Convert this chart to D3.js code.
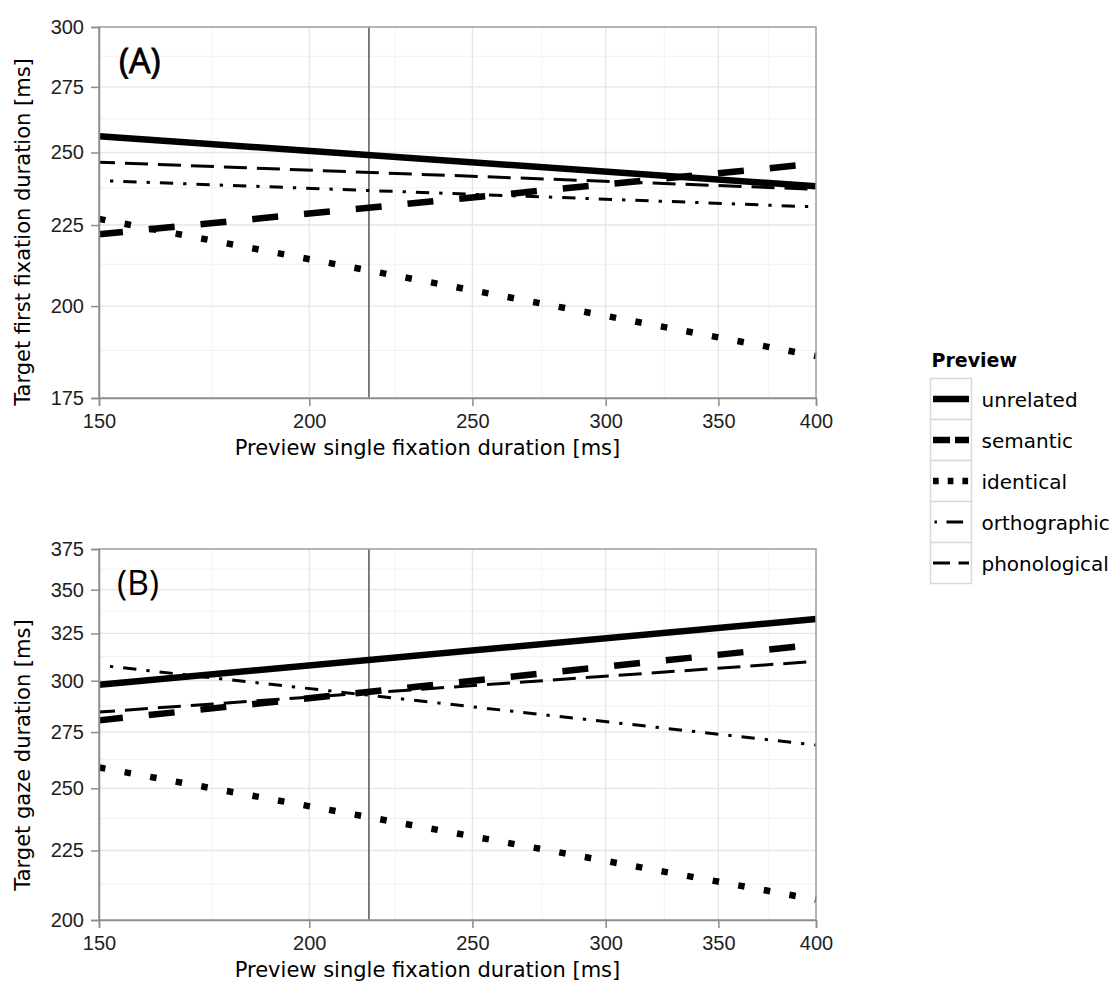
<!DOCTYPE html>
<html>
<head>
<meta charset="utf-8">
<script src="https://cdn.jsdelivr.net/npm/d3@7.9.0/dist/d3.min.js"></script>
<style>
  body { margin: 0; background: #fff; }
  svg { display: block; }
  text { font-family: "DejaVu Sans", sans-serif; fill: #000; }
</style>
</head>
<body>
<svg id="chart" width="1117" height="983"></svg>
<script>
// preview conditions, in legend order
const previewTypes = ['unrelated', 'semantic', 'identical', 'orthographic', 'phonological'];

// model lines are read at both ends of the preview range
const previewRange = [150, 400];
const firstFixStart = [256, 222, 227, 240, 246.5];
const firstFixEnd = [238, 246, 186, 231, 237];
const gazeStart = [298, 280.5, 259, 308, 284.5];
const gazeEnd = [333, 319, 207, 269, 310];

const xTicks = [150, 200, 250, 300, 350, 400];
const firstFixTicks = [175, 200, 225, 250, 275, 300];
const gazeTicks = [200, 225, 250, 275, 300, 325, 350, 375];
const meanPreviewSFD = 217;

// line looks (ggplot solid / dashed / dotted / dotdash / longdash)
const lineStyle = {
  unrelated:    { width: 6.5, dash: null,               offset: 0,    key: null },
  semantic:     { width: 6.5, dash: '26 26',            offset: 2,    key: '17 5' },
  identical:    { width: 6.5, dash: '6.5 19.5',         offset: 0,    key: '5.7 9' },
  orthographic: { width: 3,   dash: '3.3 10 13.3 10',   offset: 25.6, key: '2.4 9.6 16.6 40' },
  phonological: { width: 3,   dash: '23 10',            offset: 7,    key: '17 8.5' },
};

const svg = d3.select('#chart');
const left = 99, right = 816;

function drawPanel(cfg) {
  const x = d3.scaleLog().domain([150, 400]).range([left, right]);
  const y = d3.scaleLog().domain(cfg.yDomain).range([cfg.bottom, cfg.top]);
  const g = svg.append('g');

  // minor grid sits half way between major breaks
  const xMinor = d3.pairs(xTicks, (a, b) => (a + b) / 2);
  const yMinor = d3.pairs(cfg.yTicks, (a, b) => (a + b) / 2);

  g.selectAll('.xminor').data(xMinor).join('line')
    .attr('x1', d => x(d)).attr('x2', d => x(d))
    .attr('y1', cfg.top).attr('y2', cfg.bottom)
    .attr('stroke', '#f2f2f2').attr('stroke-width', 1);
  g.selectAll('.yminor').data(yMinor).join('line')
    .attr('x1', left).attr('x2', right)
    .attr('y1', d => y(d)).attr('y2', d => y(d))
    .attr('stroke', '#f2f2f2').attr('stroke-width', 1);

  g.selectAll('.xmajor').data(xTicks).join('line')
    .attr('x1', d => x(d)).attr('x2', d => x(d))
    .attr('y1', cfg.top).attr('y2', cfg.bottom)
    .attr('stroke', '#e6e6e6').attr('stroke-width', 1.3);
  g.selectAll('.ymajor').data(cfg.yTicks).join('line')
    .attr('x1', left).attr('x2', right)
    .attr('y1', d => y(d)).attr('y2', d => y(d))
    .attr('stroke', '#e6e6e6').attr('stroke-width', 1.3);

  // mean preview duration
  g.append('line')
    .attr('x1', x(meanPreviewSFD)).attr('x2', x(meanPreviewSFD))
    .attr('y1', cfg.top).attr('y2', cfg.bottom)
    .attr('stroke', '#707070').attr('stroke-width', 1.8);

  const line = d3.line().x(d => x(d[0])).y(d => y(d[1]));

  previewTypes.forEach((type, i) => {
    const st = lineStyle[type];
    g.append('path')
      .datum([[previewRange[0], cfg.start[i]], [previewRange[1], cfg.end[i]]])
      .attr('d', line)
      .attr('fill', 'none')
      .attr('stroke', '#000')
      .attr('stroke-width', st.width)
      .attr('stroke-linecap', 'butt')
      .attr('stroke-dasharray', st.dash)
      .attr('stroke-dashoffset', st.offset);
  });

  g.append('rect')
    .attr('x', left).attr('y', cfg.top)
    .attr('width', right - left).attr('height', cfg.bottom - cfg.top)
    .attr('fill', 'none').attr('stroke', '#a3a3a3').attr('stroke-width', 1.5);

  const xAxis = g.append('g')
    .attr('transform', `translate(0,${cfg.bottom})`)
    .call(d3.axisBottom(x).tickValues(xTicks).tickFormat(d3.format('d')).tickSize(8).tickPadding(8));
  const yAxis = g.append('g')
    .attr('transform', `translate(${left},0)`)
    .call(d3.axisLeft(y).tickValues(cfg.yTicks).tickFormat(d3.format('d')).tickSize(8).tickPadding(7));
  [xAxis, yAxis].forEach(a => {
    a.attr('font-family', '"Liberation Sans", Arial, sans-serif').attr('font-size', 20);
    a.select('.domain').attr('stroke', '#8c8c8c').attr('stroke-width', 1.5);
    a.selectAll('.tick line').attr('stroke', '#8c8c8c').attr('stroke-width', 1.5);
    a.selectAll('.tick text')
      .style('font-family', '"Liberation Sans", Arial, sans-serif')
      .style('font-size', '20px')
      .style('fill', '#1e1e1e');
  });

  g.append('text')
    .attr('x', 427.5).attr('y', cfg.bottom + 57)
    .attr('text-anchor', 'middle')
    .attr('font-size', 21)
    .text('Preview single fixation duration [ms]');

  g.append('text')
    .attr('transform', `translate(30,${cfg.yTitleMid}) rotate(-90)`)
    .attr('text-anchor', 'middle')
    .attr('font-size', 21)
    .text(cfg.yTitle);

  g.append('text')
    .attr('x', cfg.labelX).attr('y', cfg.top + 46)
    .style('font-family', '"Open Sans", sans-serif')
    .attr('font-size', 34)
    .attr('stroke', '#000')
    .attr('stroke-width', cfg.labelStroke)
    .text(cfg.label);
}

drawPanel({
  top: 27, bottom: 398, yDomain: [175, 300], yTicks: firstFixTicks,
  start: firstFixStart, end: firstFixEnd,
  yTitle: 'Target first fixation duration [ms]', yTitleMid: 232,
  label: '(A)', labelX: 119, labelStroke: 0.8,
});

drawPanel({
  top: 549, bottom: 920, yDomain: [200, 375], yTicks: gazeTicks,
  start: gazeStart, end: gazeEnd,
  yTitle: 'Target gaze duration [ms]', yTitleMid: 755,
  label: '(B)', labelX: 117, labelStroke: 0,
});

// legend
const legend = svg.append('g').attr('transform', 'translate(930.5,378.5)');
legend.append('text')
  .attr('x', 1).attr('y', -12)
  .attr('font-size', 19).attr('font-weight', 'bold')
  .text('Preview');

const rows = legend.selectAll('g.row').data(previewTypes).join('g')
  .attr('class', 'row')
  .attr('transform', (d, i) => `translate(0,${i * 41})`);

rows.append('rect')
  .attr('width', 41).attr('height', 41)
  .attr('fill', '#fff').attr('stroke', '#d9d9d9').attr('stroke-width', 1.5);

rows.append('line')
  .attr('x1', d => d === 'orthographic' ? 4 : 2.5).attr('x2', 38.5)
  .attr('y1', 20.5).attr('y2', 20.5)
  .attr('stroke', '#000')
  .attr('stroke-width', d => lineStyle[d].width)
  .attr('stroke-dasharray', d => lineStyle[d].key);

rows.append('text')
  .attr('x', 51).attr('y', 28)
  .attr('font-size', 20)
  .text(d => d);
</script>
</body>
</html>
